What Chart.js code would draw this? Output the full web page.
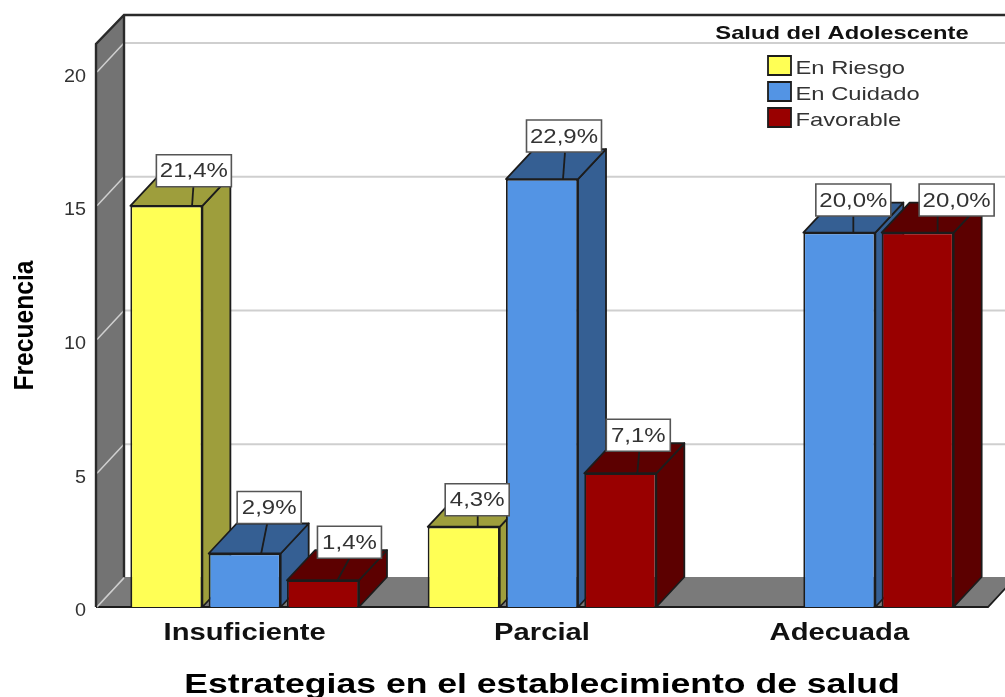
<!DOCTYPE html>
<html><head><meta charset="utf-8">
<style>html,body{margin:0;padding:0;background:#fff;overflow:hidden}canvas{display:block}</style>
<script src="https://cdn.jsdelivr.net/npm/chart.js@4/dist/chart.umd.min.js"></script>
</head><body><canvas id="c" width="1005" height="697"></canvas>
<script>
const categories = ['Insuficiente', 'Parcial', 'Adecuada'];
const enRiesgo = [15, 3, null];
const enCuidado = [2, 16, 14];
const favorable = [1, 5, 14];
const enRiesgoPct = ['21,4%', '4,3%', null];
const enCuidadoPct = ['2,9%', '22,9%', '20,0%'];
const favorablePct = ['1,4%', '7,1%', '20,0%'];
const yTicks = [0, 5, 10, 15, 20];
const legendTitle = 'Salud del Adolescente';
const xTitle = 'Estrategias en el establecimiento de salud';
const yTitle = 'Frecuencia';

// Label-callout placement, relative to each bar: [box dx, gap above bar, leader top dx, leader bottom dx]
const calloutStyle = [
  [[27.5, 19, 27, 25.7], [13.5, 11, 14, 14], null],
  [[24.5, 30, 22.5, 16.5], [22, 27, 23, 21], [14, 16.5, 14, 14]],
  [[26.5, 22, 26.5, 14.5], [18, 22, 19, 17], [39, 16.5, 20, 20]]
];
const pctBySeries = [enRiesgoPct, enCuidadoPct, favorablePct];
const sideColors = ['#9e9e3c', '#355f93', '#5c0000'];
const DX = 28, DY = 30, INK = '#1c1c1c', FONT = '"Liberation Sans", Arial, sans-serif';
const protoFill = CanvasRenderingContext2D.prototype.fillText;

function stretched(c, sx, dx, dy, fn) {
  const prev = c.fillText;
  c.fillText = function (t, x, y) {
    c.save(); c.translate(x + dx, y + dy); c.scale(sx, 1); protoFill.call(c, t, 0, 0); c.restore();
  };
  const r = fn();
  c.fillText = prev;
  return r;
}
function wrap(chart, obj, name, sx, dx, dy) {
  const f = obj[name];
  obj[name] = function (...a) { return stretched(chart.ctx, sx, dx || 0, dy || 0, () => f.apply(this, a)); };
}
function poly(ctx, pts, fill, stroke, lw) {
  ctx.beginPath(); pts.forEach((p, i) => i ? ctx.lineTo(p[0], p[1]) : ctx.moveTo(p[0], p[1])); ctx.closePath();
  if (fill) { ctx.fillStyle = fill; ctx.fill(); }
  if (stroke) { ctx.strokeStyle = stroke; ctx.lineWidth = lw; ctx.lineJoin = 'round'; ctx.stroke(); }
}

const box3d = {
  id: 'box3d',
  afterLayout(chart) {
    if (chart.$wrapped) return; chart.$wrapped = true;
    const s = chart.scales, lg = chart.legend;
    wrap(chart, s.x, 'drawLabels', 1.27); wrap(chart, s.x, 'drawTitle', 1.27);
    wrap(chart, s.y, 'drawLabels', 1.1); wrap(chart, s.y, 'drawTitle', 0.88);
    lg.draw = function () { stretched(chart.ctx, 1.25, -5, 3, () => lg._draw()); };
    wrap(chart, lg, '_drawTitle', 1.47);
  },
  beforeDraw(chart) {
    const { ctx, chartArea: a, scales: { y }, legend } = chart;
    const W = chart.width, b = a.bottom, t = a.top, l = a.left, r = a.right;
    ctx.save();
    ctx.strokeStyle = '#cfcfcf'; ctx.lineWidth = 2;
    y.ticks.forEach(k => {
      const py = y.getPixelForValue(k.value);
      if (k.value > 0) { ctx.beginPath(); ctx.moveTo(l + DX, py - DY + 1); ctx.lineTo(W, py - DY + 1); ctx.stroke(); }
    });
    poly(ctx, [[l, b], [l + DX, b - DY], [r + DX, b - DY], [r, b]], '#7a7a7a');
    ctx.strokeStyle = INK; ctx.lineWidth = 1.8;
    ctx.beginPath(); ctx.moveTo(l, b); ctx.lineTo(r, b); ctx.lineTo(r + DX, b - DY); ctx.stroke();
    poly(ctx, [[l, b], [l, t], [l + DX, t - DY + 1], [l + DX, b - DY]], '#737373');
    ctx.strokeStyle = '#d0d0d0'; ctx.lineWidth = 1.5;
    y.ticks.forEach(k => {
      const py = y.getPixelForValue(k.value);
      ctx.beginPath(); ctx.moveTo(l + 1, py); ctx.lineTo(l + DX, py - DY + 1); ctx.stroke();
    });
    ctx.strokeStyle = '#2a2a2a'; ctx.lineWidth = 2.4;
    ctx.beginPath(); ctx.moveTo(l, b); ctx.lineTo(l, t); ctx.lineTo(l + DX, t - DY + 1); ctx.lineTo(W, t - DY + 1); ctx.stroke();
    ctx.beginPath(); ctx.moveTo(l + DX, t - DY + 1); ctx.lineTo(l + DX, b - DY); ctx.stroke();
    ctx.restore();
    legend.left = 761; legend.top = 15; legend.width = 172; legend.right = 933; legend.height = 203; legend.bottom = 218;
    legend.adjustHitBoxes();
  },
  // Bars are painted left to right so each front face covers its neighbour's side.
  beforeDatasetsDraw(chart) {
    const { ctx } = chart;
    chart.getSortedVisibleDatasetMetas().forEach(meta => {
      const si = meta.index, col = sideColors[si];
      ctx.save();
      meta.data.forEach((el, i) => {
        if (chart.data.datasets[si].data[i] == null) return;
        const x0 = el.x - el.width / 2, x1 = el.x + el.width / 2, yT = el.y, yB = el.base;
        poly(ctx, [[x1, yT], [x1 + DX, yT - DY], [x1 + DX, yB - DY], [x1, yB]], col, INK, 1.8);
        poly(ctx, [[x0, yT], [x0 + DX, yT - DY], [x1 + DX, yT - DY], [x1, yT]], col, INK, 1.8);
      });
      ctx.restore();
      meta.controller.draw();
    });
  },
  beforeDatasetDraw() { return false; },
  afterDatasetsDraw(chart) {
    const { ctx } = chart;
    ctx.save();
    chart.data.datasets.forEach((ds, si) => {
      chart.getDatasetMeta(si).data.forEach((el, i) => {
        const txt = pctBySeries[si][i], st = calloutStyle[si][i];
        if (!txt || !st) return;
        const boxB = el.y - st[1];
        ctx.strokeStyle = INK; ctx.lineWidth = 1.8;
        ctx.beginPath(); ctx.moveTo(el.x + st[2], boxB); ctx.lineTo(el.x + st[3], el.y); ctx.stroke();
      });
    });
    chart.data.datasets.forEach((ds, si) => {
      chart.getDatasetMeta(si).data.forEach((el, i) => {
        const txt = pctBySeries[si][i], st = calloutStyle[si][i];
        if (!txt || !st) return;
        const cx = el.x + st[0], boxB = el.y - st[1], h = 32;
        const w = txt.length > 4 ? 75 : 64;
        ctx.fillStyle = '#fff'; ctx.strokeStyle = '#555'; ctx.lineWidth = 1.6;
        ctx.beginPath(); ctx.rect(cx - w / 2, boxB - h, w, h); ctx.fill(); ctx.stroke();
        ctx.font = '20px ' + FONT;
        ctx.fillStyle = '#333'; ctx.textAlign = 'center'; ctx.textBaseline = 'middle';
        stretched(ctx, 1.2, 0, 0, () => ctx.fillText(txt, cx, boxB - h / 2 + 1));
      });
    });
    ctx.restore();
  }
};

new Chart(document.getElementById('c'), {
  type: 'bar',
  data: {
    labels: categories,
    datasets: [
      { label: 'En Riesgo', data: enRiesgo, backgroundColor: '#ffff55', borderColor: INK, borderWidth: 1.8 },
      { label: 'En Cuidado', data: enCuidado, backgroundColor: '#5394e4', borderColor: INK, borderWidth: 1.8 },
      { label: 'Favorable', data: favorable, backgroundColor: '#990000', borderColor: INK, borderWidth: 1.8 }
    ]
  },
  options: {
    responsive: false, animation: false, devicePixelRatio: 1,
    layout: { padding: { left: 0, right: 17, top: 44, bottom: 0 } },
    datasets: { bar: { categoryPercentage: 0.79, barPercentage: 0.92 } },
    plugins: {
      tooltip: { enabled: false },
      legend: {
        position: 'chartArea', align: 'start',
        title: { display: true, text: legendTitle, color: '#111', position: 'center', font: { family: FONT, size: 19, weight: 'bold', lineHeight: 1 }, padding: { top: 6, bottom: 9 } },
        labels: { boxWidth: 23, boxHeight: 19, padding: 7, color: '#333', font: { family: FONT, size: 19 } }
      }
    },
    scales: {
      x: {
        grid: { display: false }, border: { display: false },
        ticks: { color: '#111', padding: 5, maxRotation: 0, font: { family: FONT, size: 23, weight: 'bold' } },
        title: { display: true, text: xTitle, color: '#000', padding: { top: 0, bottom: -2 }, font: { family: FONT, size: 28, weight: 'bold', lineHeight: 1 } },
        afterFit(s) { s.height = 90; }
      },
      y: {
        min: 0, max: 21.05,
        grid: { display: false }, border: { display: false },
        afterBuildTicks(s) { s.ticks = yTicks.map(v => ({ value: v })); },
        ticks: { color: '#333', padding: 2, labelOffset: 4.5, font: { family: FONT, size: 18 } },
        title: { display: true, text: yTitle, color: '#000', padding: { top: 11, bottom: 0 }, font: { family: FONT, size: 28, weight: 'bold', lineHeight: 1 } },
        afterFit(s) { s.width = 96; }
      }
    }
  },
  plugins: [box3d]
});
</script></body></html>
